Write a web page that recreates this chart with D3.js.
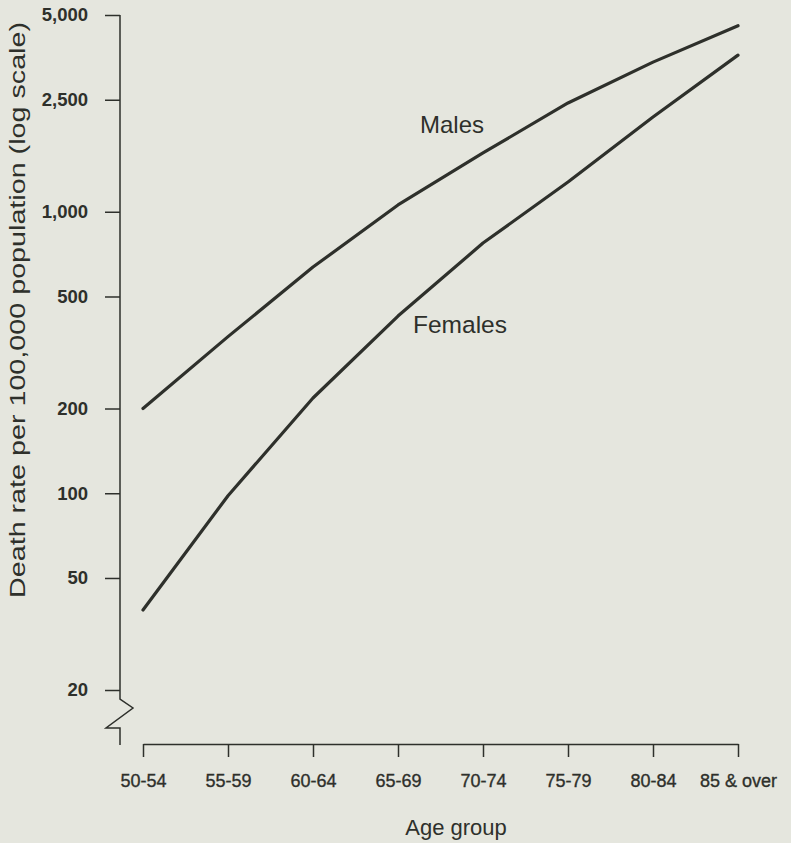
<!DOCTYPE html>
<html>
<head>
<meta charset="utf-8">
<script src="https://cdn.jsdelivr.net/npm/d3@7"></script>
<style>
  body { margin: 0; background: #e5e6de; }
  svg { display: block; font-family: "Liberation Sans", Arial, sans-serif; }
</style>
</head>
<body>
<div id="chart"></div>
<script>
var ageGroups = ["50-54", "55-59", "60-64", "65-69", "70-74", "75-79", "80-84", "85 & over"];
var males = [200, 360, 636, 1057, 1618, 2435, 3400, 4580];
var females = [38.5, 98, 218, 426, 774, 1276, 2170, 3600];
var yTicks = [20, 50, 100, 200, 500, 1000, 2500, 5000];

var width = 791, height = 843;
var ink = "#2e302b";

var svg = d3.select("#chart")
  .append("svg")
    .attr("width", width)
    .attr("height", height);

var x = d3.scalePoint()
  .domain(ageGroups)
  .range([143, 738]);

var y = d3.scaleLog()
  .domain([20, 5000])
  .range([690, 15]);

// y axis, own domain line with a break at the bottom
var yAxis = svg.append("g")
  .attr("transform", "translate(120,0)")
  .call(d3.axisLeft(y)
    .tickValues(yTicks)
    .tickFormat(d3.format(","))
    .tickSize(15)
    .tickPadding(17));
yAxis.select(".domain").remove();
yAxis.selectAll("line").attr("stroke", ink).attr("stroke-width", 1.5);
yAxis.selectAll("text")
  .attr("fill", ink)
  .style("font-size", "18.5px")
  .style("font-weight", "bold");

svg.append("path")
  .attr("d", "M120,15V699L133,708L106,728H120V745")
  .attr("fill", "none")
  .attr("stroke", ink)
  .attr("stroke-width", 1.5);

// x axis
var xAxis = svg.append("g")
  .attr("transform", "translate(0,744)")
  .call(d3.axisBottom(x)
    .tickSize(13)
    .tickSizeOuter(0));
xAxis.select(".domain").attr("stroke", ink).attr("stroke-width", 1.5);
xAxis.selectAll("line").attr("stroke", ink).attr("stroke-width", 1.5);
xAxis.selectAll("text")
  .attr("y", 43)
  .attr("dy", 0)
  .attr("fill", ink)
  .attr("stroke", ink)
  .attr("stroke-width", 0.35)
  .style("font-size", "18px");

// lines
var line = d3.line()
  .x(function(d, i) { return x(ageGroups[i]); })
  .y(function(d) { return y(d); });

[males, females].forEach(function(s) {
  svg.append("path")
    .datum(s)
    .attr("d", line)
    .attr("fill", "none")
    .attr("stroke", ink)
    .attr("stroke-width", 3.2)
    .attr("stroke-linecap", "round")
    .attr("stroke-linejoin", "round");
});

// series labels
svg.append("text")
  .attr("x", 420).attr("y", 133)
  .attr("fill", ink)
  .style("font-size", "24px")
  .text("Males");
svg.append("text")
  .attr("x", 413).attr("y", 333)
  .attr("fill", ink)
  .style("font-size", "24.5px")
  .text("Females");

// axis titles
svg.append("text")
  .attr("x", 456).attr("y", 835)
  .attr("text-anchor", "middle")
  .attr("fill", ink)
  .style("font-size", "22px")
  .text("Age group");

svg.append("text")
  .attr("transform", "translate(25,310) rotate(-90)")
  .attr("text-anchor", "middle")
  .attr("fill", ink)
  .attr("textLength", 576)
  .attr("lengthAdjust", "spacingAndGlyphs")
  .style("font-size", "22px")
  .text("Death rate per 100,000 population (log scale)");
</script>
</body>
</html>
